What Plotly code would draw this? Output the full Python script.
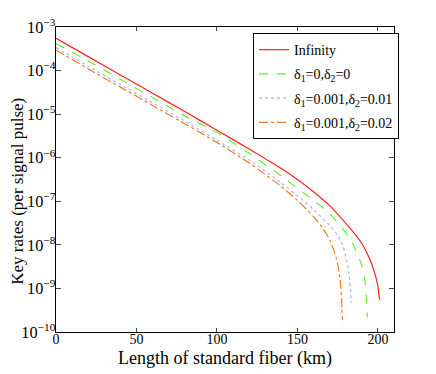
import plotly.graph_objects as go

# Key rate vs. fiber length (values read as log10 of rate)
inf_km = [0, 20, 40, 60, 80, 100, 120, 140, 150, 160, 170, 180, 185, 190, 195, 198, 200, 201]
inf_log = [-3.26, -3.68, -4.10, -4.52, -4.94, -5.37, -5.80, -6.25, -6.50, -6.78,
           -7.10, -7.50, -7.72, -7.97, -8.33, -8.65, -8.95, -9.26]

d00_km = [0, 20, 40, 60, 80, 100, 120, 140, 150, 160, 170, 180, 185, 188, 190, 192, 193, 193.4]
d00_log = [-3.38, -3.78, -4.20, -4.62, -5.04, -5.42, -5.90, -6.42, -6.70, -6.98,
           -7.28, -7.72, -8.02, -8.28, -8.48, -8.85, -9.30, -9.66]

d01_km = [0, 20, 40, 60, 80, 100, 120, 140, 150, 160, 170, 175, 178, 180, 182, 183, 183.3]
d01_log = [-3.47, -3.90, -4.32, -4.74, -5.16, -5.60, -6.05, -6.58, -6.87, -7.19,
           -7.55, -7.78, -8.00, -8.25, -8.65, -9.00, -9.33]

d02_km = [0, 20, 40, 60, 80, 100, 120, 140, 150, 160, 165, 170, 174, 176, 177, 177.6, 178]
d02_log = [-3.53, -3.96, -4.38, -4.80, -5.22, -5.65, -6.12, -6.66, -6.98, -7.35,
           -7.58, -7.88, -8.28, -8.65, -9.00, -9.40, -9.73]

series = [
    ("Infinity", inf_km, inf_log, "#ff2020", "solid"),
    ("δ<sub>1</sub>=0,δ<sub>2</sub>=0", d00_km, d00_log, "#66ee22", "dash"),
    ("δ<sub>1</sub>=0.001,δ<sub>2</sub>=0.01", d01_km, d01_log, "#a8b4ff", "dot"),
    ("δ<sub>1</sub>=0.001,δ<sub>2</sub>=0.02", d02_km, d02_log, "#ee7a22", "dashdot"),
]

fig = go.Figure()
for name, km, lg, color, dash in series:
    fig.add_trace(go.Scatter(
        x=km, y=[10 ** v for v in lg], mode="lines", name=name, legendgroup=name,
        line=dict(color=color, width=1.2, dash=dash, shape="spline", smoothing=0.6),
    ))

font = "Times New Roman, Liberation Serif, serif"
# page body adds an 8px offset, so the figure is 8px smaller than the window
fig.update_layout(
    width=428, height=366,
    margin=dict(l=48, r=42, t=19, b=42, autoexpand=False),
    paper_bgcolor="white", plot_bgcolor="white",
    font=dict(family=font, size=14, color="black"),
    showlegend=True,
    legend=dict(
        x=0.583, y=0.98, xanchor="left", yanchor="top",
        bgcolor="white", bordercolor="black", borderwidth=1,
        font=dict(family=font, size=14), tracegroupgap=3, itemwidth=30,
    ),
    annotations=[
        dict(text="Key rates (per signal pulse)", xref="paper", yref="paper",
             x=0, y=0.46, xanchor="center", yanchor="middle", xshift=-38,
             textangle=-90, showarrow=False, font=dict(family=font, size=17)),
        dict(text="Length of standard fiber (km)", xref="paper", yref="paper",
             x=0.5, y=0, xanchor="center", yanchor="top", yshift=-14,
             showarrow=False, font=dict(family=font, size=18)),
    ],
)

# minor ticks at 2..9 of each decade, drawn on overlay axes (left and right)
minor_vals = [k * 10.0 ** e for e in range(-10, -3) for k in range(2, 10)]
minor_axis = dict(
    type="log", range=[-10, -3], overlaying="y", tickmode="array", tickvals=minor_vals,
    ticks="inside", ticklen=2, tickcolor="black", showticklabels=False,
    showgrid=False, zeroline=False, showline=False, automargin=False,
)
fig.update_layout(yaxis2=dict(minor_axis, side="left"), yaxis3=dict(minor_axis, side="right"))

fig.update_xaxes(
    range=[0, 210], tickvals=[0, 50, 100, 150, 200],
    ticks="inside", ticklen=4, showline=True, linecolor="black", linewidth=1,
    mirror="ticks", showgrid=False, zeroline=False, automargin=False,
    tickfont=dict(family=font, size=14), ticklabelstandoff=-6,
)
fig.update_layout(yaxis=dict(
    type="log", range=[-10, -3], dtick=1, exponentformat="power",
    ticks="inside", ticklen=5, showline=True, linecolor="black", linewidth=1,
    mirror="ticks", showgrid=False, zeroline=False, automargin=False,
    tickfont=dict(family=font, size=13), ticklabelstandoff=-3,
))

fig.write_html("out.html")
